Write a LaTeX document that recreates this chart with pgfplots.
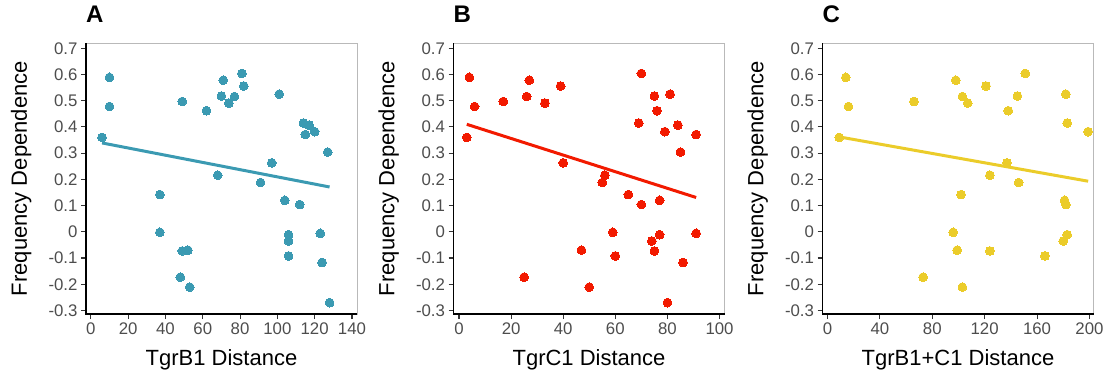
\documentclass[border=0pt]{standalone}
\usepackage{fontspec}
\setmainfont{Liberation Sans}
\usepackage{pgfplots}
\usepackage{pgfplotstable}
\pgfplotsset{compat=1.18}
\definecolor{cA}{HTML}{3B9AB2}
\definecolor{cB}{HTML}{F21A00}
\definecolor{cC}{HTML}{EBCC2A}
\definecolor{tickgray}{HTML}{4D4D4D}
\definecolor{tickcol}{HTML}{333333}

\pgfplotstableread{
x y
6 0.360
10 0.589
10 0.478
37 0.142
37 -0.002
49 0.497
49 -0.073
52 -0.070
48 -0.173
53 -0.211
62 0.462
68 0.216
70 0.518
71 0.578
74 0.491
77 0.516
81 0.604
82 0.556
91 0.188
97 0.263
101 0.525
104 0.120
106 -0.011
106 -0.035
106 -0.092
112 0.104
114 0.415
115 0.371
117 0.407
120 0.382
123 -0.006
124 -0.117
127 0.304
128 -0.270
}\dataA

\pgfplotstableread{
x y
3 0.360
4 0.589
6 0.478
65 0.142
59 -0.002
17 0.497
75 -0.073
47 -0.070
25 -0.173
50 -0.211
76 0.462
56 0.216
75 0.518
27 0.578
33 0.491
26 0.516
70 0.604
39 0.556
55 0.188
40 0.263
81 0.525
77 0.120
77 -0.011
74 -0.035
60 -0.092
70 0.104
69 0.415
91 0.371
84 0.407
79 0.382
91 -0.006
86 -0.117
85 0.304
80 -0.270
}\dataB

\pgfplotstableread{
x y
9 0.360
14 0.589
16 0.478
102 0.142
96 -0.002
66 0.497
124 -0.073
99 -0.070
73 -0.173
103 -0.211
138 0.462
124 0.216
145 0.518
98 0.578
107 0.491
103 0.516
151 0.604
121 0.556
146 0.188
137 0.263
182 0.525
181 0.120
183 -0.011
180 -0.035
166 -0.092
182 0.104
183 0.415
199 0.382
}\dataC

\pgfplotsset{
  fd/.style={
    scale only axis, width=271bp, height=270.7bp,
    anchor=south west,
    ymin=-0.3134, ymax=0.719,
    ytick={-0.3,-0.2,-0.1,0,0.1,0.2,0.3,0.4,0.5,0.6,0.7},
    yticklabels={-0.3,-0.2,-0.1,0,0.1,0.2,0.3,0.4,0.5,0.6,0.7},
    tick pos=left, tick align=outside, major tick length=5bp,
    every tick/.style={tickcol, line width=1.1bp},
    tick label style={font=\fontsize{16.8bp}{18bp}\selectfont, text=tickgray},
    axis line style={draw=gray!55, line width=0.8bp},
    label style={font=\fontsize{22bp}{26bp}\selectfont},
    xlabel style={at={(axis description cs:0.5,-0.191)}, anchor=base},
    ylabel style={at={(axis description cs:-0.218,0.5)}, anchor=base},
    title style={at={(axis description cs:0,1.0554)}, anchor=base west, inner sep=0pt, font=\fontsize{24bp}{28bp}\selectfont\bfseries},
    ylabel={Frequency Dependence},
    after end axis/.code={\draw[black, line width=1.6bp] (rel axis cs:0,1) -- (rel axis cs:0,0) -- (rel axis cs:1,0);},
  },
  pts/.style={color=#1, only marks, mark=*, mark size=4.4bp, mark options={draw=#1, fill=#1, line width=0pt}},
  fit/.style={no marks, line width=3bp, color=#1},
}

\begin{document}
\begin{tikzpicture}[x=1bp,y=1bp]
\path[use as bounding box] (0,0) rectangle (1105,376);

\begin{axis}[fd, at={(86bp,62bp)},
  xmin=-2.6, xmax=142.7,
  xtick={0,20,40,60,80,100,120,140},
  xticklabels={0,20,40,60,80,100,120,140},
  xlabel={TgrB1 Distance}, title={A}]
\addplot[pts=cA] table[x=x,y=y] {\dataA};
\addplot[fit=cA] coordinates {(6,0.339) (128,0.171)};
\end{axis}

\begin{axis}[fd, at={(453.5bp,62bp)},
  xmin=-2.1, xmax=101.9,
  xtick={0,20,40,60,80,100},
  xticklabels={0,20,40,60,80,100},
  xlabel={TgrC1 Distance}, title={B}]
\addplot[pts=cB] table[x=x,y=y] {\dataB};
\addplot[fit=cB] coordinates {(3,0.410) (91,0.131)};
\end{axis}

\begin{axis}[fd, at={(822.5bp,62bp)},
  xmin=-3.8, xmax=203.1,
  xtick={0,40,80,120,160,200},
  xticklabels={0,40,80,120,160,200},
  xlabel={TgrB1+C1 Distance}, title={C}]
\addplot[pts=cC] table[x=x,y=y] {\dataC};
\addplot[fit=cC] coordinates {(9,0.362) (199,0.193)};
\end{axis}
\end{tikzpicture}
\end{document}
